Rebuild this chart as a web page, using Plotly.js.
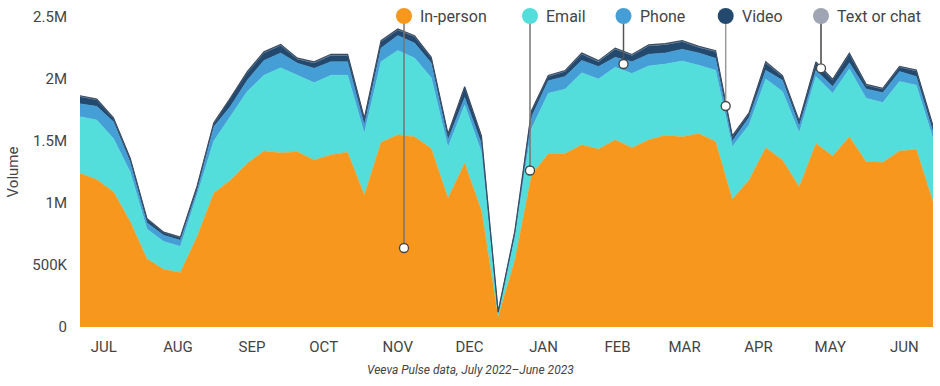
<!DOCTYPE html>
<html>
<head>
<meta charset="utf-8">
<script src="https://cdn.plot.ly/plotly-3.0.1.min.js"></script>
<style>
  html, body { margin: 0; padding: 0; background: #fff; }
  #chart { width: 940px; height: 386px; }
</style>
</head>
<body>
<div id="chart"></div>
<script>
// ---- Data (weekly volumes, in thousands) ----
const startDate = '2022-07-06';
const inPerson = [1240,1190,1090,850,550,465,440,730,1080,1185,1320,1420,1405,1414,1347,1390,1410,1065,1490,1550,1535,1440,1040,1320,940,80,540,1226,1400,1400,1470,1435,1510,1446,1510,1546,1535,1560,1495,1030,1185,1446,1347,1130,1480,1380,1535,1333,1328,1420,1433,1010];
const email    = [456,480,430,400,240,225,210,335,420,515,580,610,685,616,623,640,620,495,650,680,635,570,410,470,470,20,190,374,485,517,580,565,584,599,595,574,610,550,575,424,445,554,553,437,540,505,545,512,482,560,517,510];
const phone    = [104,110,135,80,50,50,50,35,115,80,90,120,120,97,116,110,110,70,110,120,120,120,60,60,70,10,20,96,101,103,100,100,81,95,95,90,95,100,97,46,60,70,90,53,50,55,50,75,80,80,70,55];
const video    = [57,50,25,25,30,20,20,30,25,60,60,60,60,33,44,50,50,45,50,45,50,37,40,80,55,10,20,44,34,40,50,40,65,50,66,67,60,45,53,35,30,60,30,35,60,50,70,30,27,34,45,40];
const textChat = [8,8,7,6,5,5,5,6,8,8,9,9,9,8,8,9,9,7,9,9,9,8,7,8,7,2,4,7,8,8,9,8,9,8,9,9,9,8,8,6,7,8,8,7,8,8,9,8,8,8,8,7];

const seriesNames = ['In-person','Email','Phone','Video','Text or chat'];
const seriesData  = [inPerson, email, phone, video, textChat];
const seriesColors = ['#F7971E','#53DEDC','#459FD6','#234A6E','#9EA6B4'];

const monthLabels = ['JUL','AUG','SEP','OCT','NOV','DEC','JAN','FEB','MAR','APR','MAY','JUN'];
const monthTickDates = ['2022-07-16','2022-08-16','2022-09-16','2022-10-16','2022-11-16','2022-12-16','2023-01-16','2023-02-16','2023-03-16','2023-04-16','2023-05-16','2023-06-16'];

const yTickVals = [0,500,1000,1500,2000,2500];
const yTickText = ['0','500K','1M','1.5M','2M','2.5M'];

// weekly dates
const weeks = [];
{
  const d = new Date(startDate + 'T00:00:00Z');
  for (let i = 0; i < inPerson.length; i++) {
    const t = new Date(d.getTime() + i * 7 * 86400000);
    weeks.push(t.toISOString().slice(0,10));
  }
}

const traces = seriesNames.map((name, k) => ({
  type: 'scatter',
  mode: 'lines',
  name: name,
  x: weeks,
  y: seriesData[k],
  stackgroup: 'one',
  fillcolor: seriesColors[k],
  line: { color: k === 4 ? '#3A4C62' : seriesColors[k], width: k === 4 ? 1.2 : 0.5 },
  hoverinfo: 'skip',
  showlegend: false
}));

// ---- Custom legend with pointer lines (pixel geometry of plot area) ----
const plotL = 80, plotR = 933, plotT = 17, plotB = 327;
const px = x => (x - plotL) / (plotR - plotL);
const py = y => (plotB - y) / (plotB - plotT);

const legendItems = [
  { name: 'In-person',    color: seriesColors[0], dotX: 404,   ptrY: 248,   lineColor: '#757575' },
  { name: 'Email',        color: seriesColors[1], dotX: 530,   ptrY: 170.5, lineColor: '#757575' },
  { name: 'Phone',        color: seriesColors[2], dotX: 623.5, ptrY: 64,    lineColor: '#555555' },
  { name: 'Video',        color: seriesColors[3], dotX: 725.7, ptrY: 106,   lineColor: '#9a9a9a' },
  { name: 'Text or chat', color: seriesColors[4], dotX: 821,   ptrY: 68.3,  lineColor: '#444444' }
];
const legendY = 16;

const shapes = [];
const annotations = [];
legendItems.forEach(it => {
  shapes.push({
    type: 'line', xref: 'paper', yref: 'paper',
    x0: px(it.dotX), x1: px(it.dotX), y0: py(legendY), y1: py(it.ptrY),
    line: { color: it.lineColor, width: 1.5 }
  });
});
legendItems.forEach(it => {
  shapes.push({
    type: 'circle', xref: 'paper', yref: 'paper',
    xsizemode: 'pixel', ysizemode: 'pixel',
    xanchor: px(it.dotX), yanchor: py(legendY),
    x0: -8, x1: 8, y0: -8, y1: 8,
    fillcolor: it.color, line: { width: 0 }
  });
  shapes.push({
    type: 'circle', xref: 'paper', yref: 'paper',
    xsizemode: 'pixel', ysizemode: 'pixel',
    xanchor: px(it.dotX), yanchor: py(it.ptrY),
    x0: -4.5, x1: 4.5, y0: -4.5, y1: 4.5,
    fillcolor: '#ffffff', line: { color: '#444444', width: 1.3 }
  });
  annotations.push({
    xref: 'paper', yref: 'paper', x: px(it.dotX), y: py(legendY),
    xanchor: 'left', yanchor: 'middle', xshift: 14,
    text: it.name, showarrow: false,
    font: { family: 'Roboto, sans-serif', size: 16, color: '#444444' }
  });
});
annotations.push({
  xref: 'paper', yref: 'paper', x: px(470), y: py(370),
  xanchor: 'center', yanchor: 'middle',
  text: '<i>Veeva Pulse data, July 2022\u2013June 2023</i>', showarrow: false,
  font: { family: 'Roboto, sans-serif', size: 12, color: '#444444' }
});

const layout = {
  width: 940, height: 386,
  margin: { l: plotL, r: 940 - plotR, t: plotT, b: 386 - plotB, pad: 0 },
  paper_bgcolor: '#ffffff', plot_bgcolor: '#ffffff',
  font: { family: 'Roboto, sans-serif', size: 15, color: '#444444' },
  showlegend: false,
  xaxis: {
    type: 'date',
    range: [weeks[0], weeks[weeks.length - 1]],
    tickvals: monthTickDates, ticktext: monthLabels,
    showgrid: false, zeroline: false, showline: false, ticks: '',
    ticklabelstandoff: 9,
    tickfont: { family: 'Roboto, sans-serif', size: 15, color: '#444444' },
    fixedrange: true
  },
  yaxis: {
    range: [0, 2500],
    tickvals: yTickVals, ticktext: yTickText,
    showgrid: false, zeroline: false, showline: false, ticks: '',
    ticklabelstandoff: 12,
    tickfont: { family: 'Roboto, sans-serif', size: 15, color: '#444444' },
    title: { text: 'Volume', standoff: 10, font: { family: 'Roboto, sans-serif', size: 15, color: '#444444' } },
    fixedrange: true
  },
  shapes: shapes,
  annotations: annotations
};

Plotly.newPlot('chart', traces, layout, { displayModeBar: false, staticPlot: true });
</script>
</body>
</html>
